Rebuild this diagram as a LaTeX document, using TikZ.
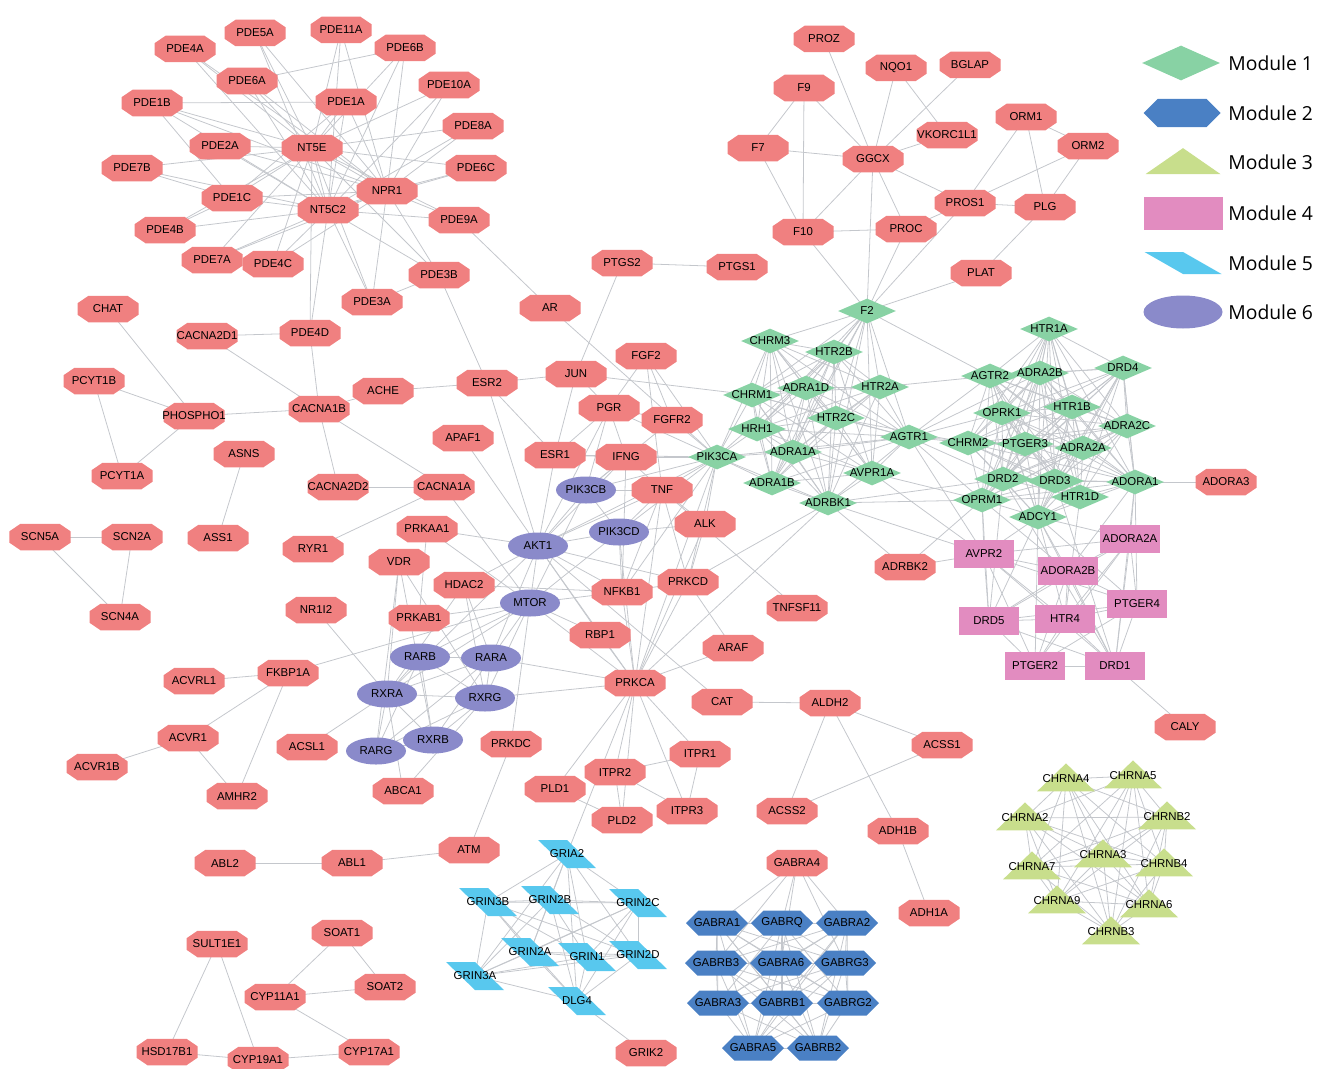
\documentclass[tikz,border=0pt]{standalone}
\usepackage{fontspec}
\usetikzlibrary{shapes.geometric,shapes.symbols}
\newfontfamily\genefont{Liberation Sans}
\newfontfamily\legendfont{Open Sans}
\definecolor{genered}{RGB}{240,128,128}
\definecolor{modgreen}{RGB}{136,210,164}
\definecolor{modblue}{RGB}{74,128,196}
\definecolor{modolive}{RGB}{200,222,140}
\definecolor{modpink}{RGB}{226,140,192}
\definecolor{modcyan}{RGB}{88,200,238}
\definecolor{modviolet}{RGB}{138,138,202}
\definecolor{edgegray}{RGB}{196,199,204}
\pgfdeclarelayer{bg}
\pgfsetlayers{bg,main}
\newcommand{\pdelist}{PDE5A,PDE11A,PDE4A,PDE6B,PDE6A,PDE10A,PDE1B,PDE1A,PDE8A,PDE2A,PDE7B,PDE6C,PDE1C,PDE9A,PDE4B,PDE7A,PDE4C,PDE3B,PDE3A,PDE4D}
\newcommand{\nprlist}{PDE5A,PDE11A,PDE4A,PDE6B,PDE6A,PDE10A,PDE1B,PDE1A,PDE8A,PDE2A,PDE6C,PDE9A,PDE1C,PDE3B,PDE3A,PDE4C,PDE7A}
\newcommand{\leftlist}{CHRM3,HTR2B,CHRM1,ADRA1D,HTR2A,HRH1,HTR2C,ADRA1A,AVPR1A,ADRA1B,ADRBK1,F2,AGTR1}
\newcommand{\rightlist}{HTR1A,AGTR2,ADRA2B,DRD4,OPRK1,HTR1B,ADRA2C,CHRM2,PTGER3,ADRA2A,DRD2,DRD3,HTR1D,ADORA1,OPRM1,ADCY1}
\newcommand{\modfourlist}{AVPR2,ADORA2A,ADORA2B,PTGER4,DRD5,HTR4,PTGER2,DRD1}
\newcommand{\modtwolist}{GABRA1,GABRQ,GABRA2,GABRB3,GABRA6,GABRG3,GABRA3,GABRB1,GABRG2,GABRA5,GABRB2}
\newcommand{\modfivelist}{GRIA2,GRIN3B,GRIN2B,GRIN2C,GRIN2A,GRIN1,GRIN2D,GRIN3A,DLG4}
\newcommand{\modthreelist}{CHRNA4,CHRNA5,CHRNA2,CHRNB2,CHRNA3,CHRNA7,CHRNB4,CHRNA9,CHRNA6,CHRNB3}
\newcommand{\modsixlist}{RARB,RARA,RXRA,RXRG,RARG,RXRB}
\newcommand{\drawclique}[1]{%
  \foreach \a [count=\i] in #1 {%
    \foreach \b [count=\j] in #1 {%
      \ifnum\j>\i \draw[link] (\a.center) -- (\b.center);\fi}}}

\begin{document}
\begin{tikzpicture}[x=0.2mm,y=-0.2mm,
    gene/.style={inner sep=0pt,text=black,
      font=\genefont\fontsize{6.5}{7}\selectfont,
      execute at begin node={\hbox to 0pt\bgroup\hss},
      execute at end node={\hss\egroup}},
    octo/.style={gene,rectangle,minimum width=12.2mm,minimum height=5.3mm,
      path picture={\fill[genered]
        ([xshift=2.2mm]path picture bounding box.north west) --
        ([xshift=-2.2mm]path picture bounding box.north east) --
        ([yshift=-1.5mm]path picture bounding box.north east) --
        ([yshift=1.5mm]path picture bounding box.south east) --
        ([xshift=-2.2mm]path picture bounding box.south east) --
        ([xshift=2.2mm]path picture bounding box.south west) --
        ([yshift=1.5mm]path picture bounding box.south west) --
        ([yshift=-1.5mm]path picture bounding box.north west) -- cycle;}},
    dia/.style={gene,diamond,minimum width=11.6mm,minimum height=5mm,fill=modgreen},
    hexa/.style={gene,signal,signal to=east and west,signal pointer angle=90,
      minimum width=12.4mm,minimum height=5mm,fill=modblue},
    tri/.style={gene,isosceles triangle,shape border rotate=90,isosceles triangle stretches,
      minimum width=11.6mm,minimum height=5.6mm,fill=modolive},
    rect/.style={gene,rectangle,minimum width=12mm,minimum height=5.6mm,fill=modpink},
    para/.style={gene,trapezium,trapezium left angle=120,trapezium right angle=60,
      trapezium stretches=true,minimum width=11.6mm,minimum height=5.6mm,fill=modcyan},
    ell/.style={gene,ellipse,minimum width=12mm,minimum height=5.4mm,fill=modviolet},
    link/.style={draw=edgegray,line width=0.45pt},
    legtext/.style={anchor=west,inner sep=0pt,font=\legendfont\fontsize{11}{13}\selectfont}]
\useasboundingbox (0,0) rectangle (1317,1068);

\foreach \nm/\x/\y in {PDE5A/255/33, PDE11A/341/30, PDE4A/185/49, PDE6B/405/48, PDE6A/247/81,
    PDE10A/449/85, PDE1B/152/103, PDE1A/346/102, PDE8A/473/126, PDE2A/220/146, NT5E/312/148,
    PDE7B/132/168, PDE6C/476/168, PDE1C/232/198, NPR1/387/191, NT5C2/328/210, PDE9A/459/220,
    PDE4B/165/230, PDE7A/212/260, PDE4C/273/264, PDE3B/439/275, PDE3A/372/302, CHAT/108/309,
    CACNA2D1/207/336, PDE4D/310/333, AR/550/308, PTGS2/622/263, PTGS1/737/267, PCYT1B/94/381,
    PHOSPHO1/194/416, CACNA1B/319/409, ACHE/383/391, ESR2/487/383, JUN/576/374, FGF2/646/356,
    PGR/609/408, FGFR2/672/420, APAF1/463/438, ESR1/555/455, IFNG/626/457, ASNS/244/454,
    PCYT1A/122/476, CACNA2D2/338/487, CACNA1A/444/487, TNF/662/490, ALK/705/524, SCN5A/40/537,
    SCN2A/132/537, ASS1/218/538, RYR1/313/549, PRKAA1/427/529, VDR/399/562, HDAC2/464/585,
    NFKB1/622/592, PRKCD/688/582, TNFSF11/797/608, SCN4A/120/617, NR1I2/316/610, PRKAB1/419/618,
    RBP1/600/635, ARAF/733/648, FKBP1A/288/673, ACVRL1/194/681, PRKCA/635/683, CAT/722/702,
    ALDH2/830/703, ACVR1/188/738, ACSL1/307/747, PRKDC/511/744, ITPR1/700/754, ACSS1/942/745,
    ACVR1B/97/767, ITPR2/615/772, ABCA1/403/791, PLD1/555/789, AMHR2/237/796, PLD2/622/820,
    ITPR3/687/811, ACSS2/787/811, ADH1B/898/831, ATM/469/850, ABL2/225/863, ABL1/352/863,
    GABRA4/797/863, ADH1A/929/913, SOAT1/342/933, SULT1E1/217/944, SOAT2/385/987,
    CYP11A1/275/997, HSD17B1/167/1052, CYP19A1/258/1060, CYP17A1/369/1052, GRIK2/646/1053,
    PROZ/824/39, NQO1/896/68, BGLAP/970/65, F9/804/88, VKORC1L1/947/135, F7/758/148,
    GGCX/873/159, ORM1/1026/117, ORM2/1088/146, PROS1/965/203, PLG/1045/207, F10/803/232,
    PROC/906/229, PLAT/981/273, ADRBK2/905/567, ADORA3/1226/482, CALY/1185/727}
  \node[octo] (\nm) at (\x,\y) {\nm};

\foreach \nm/\x/\y in {F2/867/311, CHRM3/770/341, HTR2B/834/352, CHRM1/752/395, ADRA1D/806/388,
    HTR2A/880/387, HRH1/757/429, HTR2C/836/418, AGTR1/909/437, PIK3CA/717/457, ADRA1A/793/452,
    AVPR1A/872/473, ADRA1B/772/483, ADRBK1/828/503, HTR1A/1049/329, AGTR2/990/376,
    ADRA2B/1040/373, DRD4/1123/368, OPRK1/1002/413, HTR1B/1072/407, ADRA2C/1127/426,
    CHRM2/968/443, PTGER3/1025/444, ADRA2A/1083/448, DRD2/1003/479, DRD3/1055/481,
    HTR1D/1080/497, ADORA1/1135/482, OPRM1/982/500, ADCY1/1038/517}
  \node[dia] (\nm) at (\x,\y) {\nm};

\foreach \nm/\x/\y in {AVPR2/984/554, ADORA2A/1130/539, ADORA2B/1068/571, PTGER4/1137/604,
    DRD5/989/621, HTR4/1065/619, PTGER2/1035/666, DRD1/1115/666}
  \node[rect] (\nm) at (\x,\y) {\nm};

\foreach \nm/\x/\y in {PIK3CB/586/490, PIK3CD/619/532, AKT1/538/546, MTOR/530/603, RARB/420/657,
    RARA/491/658, RXRA/387/694, RXRG/485/698, RARG/376/751, RXRB/433/740}
  \node[ell] (\nm) at (\x,\y) {\nm};

\foreach \nm/\x/\y in {GRIA2/567/854, GRIN3B/488/902, GRIN2B/550/900, GRIN2C/638/903,
    GRIN2A/530/952, GRIN1/587/957, GRIN2D/638/955, GRIN3A/475/976, DLG4/577/1001}
  \node[para] (\nm) at (\x,\y) {\nm};

\foreach \nm/\x/\y in {GABRA1/717/923, GABRQ/782/923, GABRA2/847/923, GABRB3/716/963,
    GABRA6/781/963, GABRG3/845/963, GABRA3/718/1003, GABRB1/782/1003, GABRG2/848/1003,
    GABRA5/753/1048, GABRB2/818/1048}
  \node[hexa] (\nm) at (\x,\y) {\nm};

\foreach \nm/\x/\y in {CHRNA4/1066/779, CHRNA5/1133/776, CHRNA2/1025/818, CHRNB2/1167/817,
    CHRNA3/1103/855, CHRNA7/1032/867, CHRNB4/1164/864, CHRNA9/1057/901, CHRNA6/1149/905,
    CHRNB3/1111/932}
  \node[tri] (\nm) at (\x,\y) {\nm};

% legend
\node[dia,minimum width=15.6mm,minimum height=7mm] (legone) at (1181,63) {\vphantom{M}};
\node[hexa,minimum width=15.4mm,minimum height=5.6mm] (legtwo) at (1182,113) {\vphantom{M}};
\node[tri,minimum width=15mm,minimum height=5.2mm] (legthree) at (1183,162) {\vphantom{M}};
\node[rect,minimum width=15.8mm,minimum height=6.6mm] (legfour) at (1183,213) {\vphantom{M}};
\node[para,minimum width=15.4mm,minimum height=4.4mm] (legfive) at (1183,263) {\vphantom{M}};
\node[ell,minimum width=15.8mm,minimum height=6.6mm] (legsix) at (1183,312) {\vphantom{M}};
\foreach \k/\y in {1/63,2/113,3/162,4/213,5/263,6/312}
  \node[legtext] (legtxt\k) at (1228,\y) {Module \k};

\begin{pgfonlayer}{bg}
\foreach \h in {NT5E,NT5C2}
  \foreach \p in \pdelist
    \draw[link] (\h.center) -- (\p.center);
\foreach \p in \nprlist
  \draw[link] (NPR1.center) -- (\p.center);
\drawclique{\leftlist}
\drawclique{\rightlist}
\drawclique{\modfourlist}
\drawclique{\modtwolist}
\drawclique{\modfivelist}
\drawclique{\modthreelist}
\drawclique{\modsixlist}
\foreach \a/\b in {PDE1B/PDE1A, PDE6A/PDE6B, PDE1B/PDE1C, PDE7B/PDE1C, PDE4B/PDE1C, PDE3A/PDE3B,
    PDE1A/PDE1C, NT5E/NT5C2, NT5E/NPR1, NT5C2/NPR1, PDE9A/AR, AR/PIK3CA, PDE3B/ESR2,
    PTGS2/PTGS1, PTGS2/JUN, CHAT/PHOSPHO1, CACNA2D1/PDE4D, CACNA2D1/CACNA1B, PDE4D/CACNA1B,
    PCYT1B/PHOSPHO1, PCYT1B/PCYT1A, PHOSPHO1/PCYT1A, PHOSPHO1/CACNA1B, CACNA1B/ACHE,
    CACNA1B/CACNA2D2, CACNA1B/CACNA1A, ACHE/ESR2, ESR2/JUN, ESR2/ESR1, ESR2/AKT1,
    CACNA2D2/CACNA1A, CACNA1A/RYR1, CACNA1A/MTOR, APAF1/AKT1, ASNS/ASS1, SCN5A/SCN2A,
    SCN5A/SCN4A, SCN2A/SCN4A, NR1I2/RXRA, FKBP1A/ACVRL1, FKBP1A/ACVR1, FKBP1A/AMHR2,
    FKBP1A/MTOR, ACVR1/ACVR1B, ACVR1/AMHR2, ABL2/ABL1, ABL1/ATM, ATM/PRKDC, PRKDC/MTOR,
    SULT1E1/HSD17B1, SULT1E1/CYP19A1, HSD17B1/CYP19A1, CYP19A1/CYP17A1, CYP11A1/SOAT1,
    CYP11A1/SOAT2, CYP11A1/CYP17A1, SOAT1/SOAT2, ACSL1/RXRA, ABCA1/RXRA, ABCA1/RXRG,
    JUN/ESR1, JUN/CHRM1, JUN/PGR, PGR/ESR1, PGR/FGFR2, PGR/IFNG, PGR/PIK3CB, PGR/AKT1,
    FGF2/FGFR2, FGF2/PIK3CA, FGF2/PGR, FGF2/TNF, FGFR2/PIK3CA, FGFR2/PIK3CB, ESR1/IFNG,
    ESR1/AKT1, IFNG/PIK3CA, IFNG/TNF, IFNG/PIK3CB, IFNG/AKT1, IFNG/NFKB1, TNF/PIK3CA,
    TNF/PIK3CB, TNF/PIK3CD, TNF/ALK, TNF/NFKB1, TNF/PRKCD, TNF/AKT1, TNF/TNFSF11, TNF/PRKCA,
    ALK/PIK3CA, ALK/PIK3CD, ALK/PRKCD, ALK/PRKCA, PIK3CA/PIK3CB, PIK3CA/PIK3CD, PIK3CA/AKT1,
    PIK3CA/PRKCD, PIK3CA/NFKB1, PIK3CA/PGR, PIK3CA/ESR1, PIK3CA/PRKCA, PIK3CB/PIK3CD,
    PIK3CB/AKT1, PIK3CB/MTOR, PIK3CD/AKT1, PIK3CD/MTOR, PIK3CD/NFKB1, PIK3CD/PRKCA,
    AKT1/MTOR, AKT1/NFKB1, AKT1/PRKCA, AKT1/PRKCD, AKT1/HDAC2, AKT1/PRKAA1, AKT1/RBP1,
    AKT1/RXRA, AKT1/RARA, AKT1/CAT, MTOR/NFKB1, MTOR/PRKCA, MTOR/RBP1, MTOR/PRKAA1,
    MTOR/PRKAB1, MTOR/RARA, MTOR/RXRG, MTOR/RXRA, MTOR/RARB, HDAC2/NFKB1, HDAC2/RXRA,
    HDAC2/RARA, HDAC2/RXRG, PRKAA1/PRKAB1, VDR/RXRA, VDR/RXRB, VDR/RXRG, VDR/RARG,
    NFKB1/PRKCD, NFKB1/PRKCA, PRKCD/PRKCA, PRKCD/ARAF, PRKCD/ADRBK1, RBP1/PRKCA, RARA/PRKCA,
    RXRG/PRKCA, PRKCA/ADRBK1, PRKCA/ARAF, PRKCA/ITPR1, PRKCA/ITPR2, PRKCA/ITPR3, PRKCA/PLD1,
    PRKCA/PLD2, PRKCA/GRIA2, ITPR1/ITPR2, ITPR1/ITPR3, ITPR2/ITPR3, ITPR2/PLD2, PLD1/PLD2,
    CAT/ALDH2, ALDH2/ACSS1, ALDH2/ACSS2, ALDH2/ADH1B, ACSS1/ACSS2, ADH1B/ADH1A, DLG4/GRIK2,
    PROZ/GGCX, NQO1/GGCX, NQO1/VKORC1L1, BGLAP/GGCX, F9/GGCX, F9/F7, F9/F10, F7/GGCX, F7/F10,
    GGCX/F10, GGCX/VKORC1L1, GGCX/PROS1, GGCX/PROC, GGCX/F2, F10/PROC, F10/F2, PROC/F2,
    PROC/PROS1, PROS1/F2, PROS1/ORM2, ORM1/PROS1, ORM1/PLG, ORM1/ORM2, ORM2/PLG, PROS1/PLG,
    PLG/PLAT, PLAT/F2, F2/AGTR2, ADRBK1/ADRBK2, ADRBK1/AVPR2, ADRBK2/AVPR2, ADRBK2/OPRM1,
    AGTR1/AVPR2, AVPR1A/AVPR2, ADORA1/ADORA3, DRD1/CALY, PIK3CA/HRH1, PIK3CA/CHRM1,
    PIK3CA/ADRA1A, PIK3CA/ADRA1B, PIK3CA/ADRBK1, PIK3CA/CHRM3, PIK3CA/HTR2B, PIK3CA/AGTR1,
    HTR2A/AGTR2, HTR2C/CHRM2, AVPR1A/OPRM1, ADRBK1/DRD2, ADRBK1/OPRM1, AGTR1/AGTR2,
    AGTR1/CHRM2, AGTR1/OPRK1, AGTR1/DRD2, AGTR1/PTGER3, AGTR1/ADRA2B, AGTR1/OPRM1,
    GABRA4/GABRA1, GABRA4/GABRQ, GABRA4/GABRA2, GABRA4/GABRA6, GABRA4/GABRB3, GABRA4/GABRG3,
    ADCY1/AVPR2, ADCY1/ADORA2A, ADCY1/ADORA2B, ADCY1/PTGER4, ADCY1/DRD5, ADCY1/HTR4,
    ADCY1/PTGER2, ADCY1/DRD1, ADORA1/ADORA2A, ADORA1/DRD1, ADORA1/ADORA2B, ADORA1/PTGER4,
    OPRM1/AVPR2, OPRM1/DRD5, OPRM1/ADORA2B, DRD2/DRD5, DRD2/DRD1, DRD3/DRD1, HTR1D/HTR4,
    DRD4/ADORA1}
  \draw[link] (\a.center) -- (\b.center);
\end{pgfonlayer}
\end{tikzpicture}
\end{document}
